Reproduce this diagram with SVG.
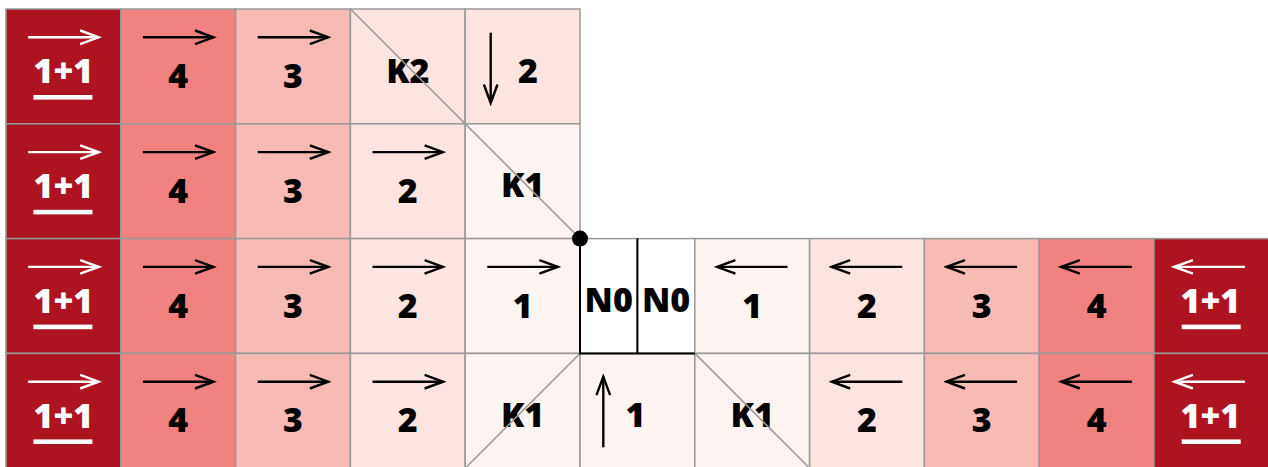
<svg xmlns="http://www.w3.org/2000/svg" width="1268" height="467" viewBox="0 0 1268 467">
<defs>
<style>
.cell{stroke:#999;stroke-width:1.5}
.c5{fill:#AE1420}.c4{fill:#F08380}.c3{fill:#F8BAB4}.c2{fill:#FCE4E0}.c1{fill:#FEF4F2}.c0{fill:#FFFFFF}
.t{font-family:"Open Sans","Noto Sans","DejaVu Sans",sans-serif;font-weight:800;font-size:34px;text-anchor:middle;fill:#000}
.tw{fill:#FFFFFF}
.a{stroke:#000;stroke-width:2.4;fill:none;marker-end:url(#hb)}
.aw{stroke:#FFF;stroke-width:2.4;fill:none;marker-end:url(#hw)}
.diag{stroke:#999;stroke-width:1.5;fill:none}
.blk{stroke:#000;stroke-width:2;fill:none}
</style>
<marker id="hb" markerUnits="userSpaceOnUse" markerWidth="24" markerHeight="18" viewBox="-21 -9 24 18" refX="0" refY="0" orient="auto">
<path d="M-18.5,-6.8 L0,0 L-18.5,6.8" fill="none" stroke="#000" stroke-width="2.4"/>
</marker>
<marker id="hw" markerUnits="userSpaceOnUse" markerWidth="24" markerHeight="18" viewBox="-21 -9 24 18" refX="0" refY="0" orient="auto">
<path d="M-18.5,-6.8 L0,0 L-18.5,6.8" fill="none" stroke="#FFF" stroke-width="2.4"/>
</marker>
</defs>
<rect width="1268" height="467" fill="#FFFFFF"/>

<!-- Row 0 -->
<g id="r0c0"><rect class="cell c5" x="6" y="9" width="114.8" height="114.8"/><path class="aw" d="M28.1,37.3 H98.7"/><text class="t tw" x="63.4" y="83.3">1+1</text><rect x="33.4" y="95" width="59" height="4.6" fill="#FFF"/></g>
<g id="r0c1"><rect class="cell c4" x="120.8" y="9" width="114.8" height="114.8"/><path class="a" d="M142.9,37.3 H213.5"/><text class="t" x="178.2" y="88">4</text></g>
<g id="r0c2"><rect class="cell c3" x="235.6" y="9" width="114.8" height="114.8"/><path class="a" d="M257.7,37.3 H328.3"/><text class="t" x="293" y="88">3</text></g>
<g id="r0c3"><rect class="cell c2" x="350.4" y="9" width="114.8" height="114.8"/><text class="t" x="407.8" y="82.5">K2</text></g>
<g id="r0c4"><rect class="cell c2" x="465.2" y="9" width="114.8" height="114.8"/><path class="a" d="M490.7,32.7 V103"/><text class="t" x="528" y="82.5">2</text></g>

<!-- Row 1 -->
<g id="r1c0"><rect class="cell c5" x="6" y="123.8" width="114.8" height="114.8"/><path class="aw" d="M28.1,152.1 H98.7"/><text class="t tw" x="63.4" y="198.1">1+1</text><rect x="33.4" y="209.8" width="59" height="4.6" fill="#FFF"/></g>
<g id="r1c1"><rect class="cell c4" x="120.8" y="123.8" width="114.8" height="114.8"/><path class="a" d="M142.9,152.1 H213.5"/><text class="t" x="178.2" y="202.8">4</text></g>
<g id="r1c2"><rect class="cell c3" x="235.6" y="123.8" width="114.8" height="114.8"/><path class="a" d="M257.7,152.1 H328.3"/><text class="t" x="293" y="202.8">3</text></g>
<g id="r1c3"><rect class="cell c2" x="350.4" y="123.8" width="114.8" height="114.8"/><path class="a" d="M372.5,152.1 H443.1"/><text class="t" x="407.8" y="202.8">2</text></g>
<g id="r1c4"><rect class="cell c1" x="465.2" y="123.8" width="114.8" height="114.8"/><text class="t" x="522.6" y="197.3">K1</text></g>

<!-- Row 2 -->
<g id="r2c0"><rect class="cell c5" x="6" y="238.6" width="114.8" height="114.8"/><path class="aw" d="M28.1,266.9 H98.7"/><text class="t tw" x="63.4" y="312.9">1+1</text><rect x="33.4" y="324.6" width="59" height="4.6" fill="#FFF"/></g>
<g id="r2c1"><rect class="cell c4" x="120.8" y="238.6" width="114.8" height="114.8"/><path class="a" d="M142.9,266.9 H213.5"/><text class="t" x="178.2" y="317.6">4</text></g>
<g id="r2c2"><rect class="cell c3" x="235.6" y="238.6" width="114.8" height="114.8"/><path class="a" d="M257.7,266.9 H328.3"/><text class="t" x="293" y="317.6">3</text></g>
<g id="r2c3"><rect class="cell c2" x="350.4" y="238.6" width="114.8" height="114.8"/><path class="a" d="M372.5,266.9 H443.1"/><text class="t" x="407.8" y="317.6">2</text></g>
<g id="r2c4"><rect class="cell c1" x="465.2" y="238.6" width="114.8" height="114.8"/><path class="a" d="M487.3,266.9 H557.9"/><text class="t" x="522.6" y="317.6">1</text></g>
<g id="n0a"><rect class="cell c0" x="580" y="238.6" width="57.4" height="114.8"/><text class="t" x="608.7" y="312.4">N0</text></g>
<g id="n0b"><rect class="cell c0" x="637.4" y="238.6" width="57.4" height="114.8"/><text class="t" x="666.1" y="312.4">N0</text></g>
<g id="r2c6"><rect class="cell c1" x="694.8" y="238.6" width="114.8" height="114.8"/><path class="a" d="M787.5,266.9 H716.9"/><text class="t" x="752.2" y="317.6">1</text></g>
<g id="r2c7"><rect class="cell c2" x="809.6" y="238.6" width="114.8" height="114.8"/><path class="a" d="M902.3,266.9 H831.7"/><text class="t" x="867" y="317.6">2</text></g>
<g id="r2c8"><rect class="cell c3" x="924.4" y="238.6" width="114.8" height="114.8"/><path class="a" d="M1017.1,266.9 H946.5"/><text class="t" x="981.8" y="317.6">3</text></g>
<g id="r2c9"><rect class="cell c4" x="1039.2" y="238.6" width="114.8" height="114.8"/><path class="a" d="M1131.9,266.9 H1061.3"/><text class="t" x="1096.6" y="317.6">4</text></g>
<g id="r2c10"><rect class="cell c5" x="1154" y="238.6" width="114.8" height="114.8"/><path class="aw" d="M1245,266.9 H1174.4"/><text class="t tw" x="1210.4" y="312.9">1+1</text><rect x="1181.7" y="324.6" width="59" height="4.6" fill="#FFF"/></g>

<!-- Row 3 -->
<g id="r3c0"><rect class="cell c5" x="6" y="353.4" width="114.8" height="114.8"/><path class="aw" d="M28.1,381.7 H98.7"/><text class="t tw" x="63.4" y="427.7">1+1</text><rect x="33.4" y="439.4" width="59" height="4.6" fill="#FFF"/></g>
<g id="r3c1"><rect class="cell c4" x="120.8" y="353.4" width="114.8" height="114.8"/><path class="a" d="M142.9,381.7 H213.5"/><text class="t" x="178.2" y="432.4">4</text></g>
<g id="r3c2"><rect class="cell c3" x="235.6" y="353.4" width="114.8" height="114.8"/><path class="a" d="M257.7,381.7 H328.3"/><text class="t" x="293" y="432.4">3</text></g>
<g id="r3c3"><rect class="cell c2" x="350.4" y="353.4" width="114.8" height="114.8"/><path class="a" d="M372.5,381.7 H443.1"/><text class="t" x="407.8" y="432.4">2</text></g>
<g id="r3c4"><rect class="cell c1" x="465.2" y="353.4" width="114.8" height="114.8"/><text class="t" x="522.6" y="426.9">K1</text></g>
<g id="r3c5"><rect class="cell c1" x="580" y="353.4" width="114.8" height="114.8"/><path class="a" d="M603.3,447.3 V376.7"/><text class="t" x="635.5" y="426.9">1</text></g>
<g id="r3c6"><rect class="cell c1" x="694.8" y="353.4" width="114.8" height="114.8"/><text class="t" x="752.2" y="426.9">K1</text></g>
<g id="r3c7"><rect class="cell c2" x="809.6" y="353.4" width="114.8" height="114.8"/><path class="a" d="M902.3,381.7 H831.7"/><text class="t" x="867" y="432.4">2</text></g>
<g id="r3c8"><rect class="cell c3" x="924.4" y="353.4" width="114.8" height="114.8"/><path class="a" d="M1017.1,381.7 H946.5"/><text class="t" x="981.8" y="432.4">3</text></g>
<g id="r3c9"><rect class="cell c4" x="1039.2" y="353.4" width="114.8" height="114.8"/><path class="a" d="M1131.9,381.7 H1061.3"/><text class="t" x="1096.6" y="432.4">4</text></g>
<g id="r3c10"><rect class="cell c5" x="1154" y="353.4" width="114.8" height="114.8"/><path class="aw" d="M1245,381.7 H1174.4"/><text class="t tw" x="1210.4" y="427.7">1+1</text><rect x="1181.7" y="439.4" width="59" height="4.6" fill="#FFF"/></g>

<g id="connectors">
<path class="diag" d="M350.4,9 L580,238.6"/>
<path class="diag" d="M580,353.4 L465.2,468.2"/>
<path class="diag" d="M694.8,353.4 L809.6,468.2"/>
<path class="blk" d="M580,238.6 V353.4 H694.8 M637.4,238.6 V353.4"/>
<circle cx="580" cy="238.6" r="8" fill="#000"/>
</g>
</svg>
